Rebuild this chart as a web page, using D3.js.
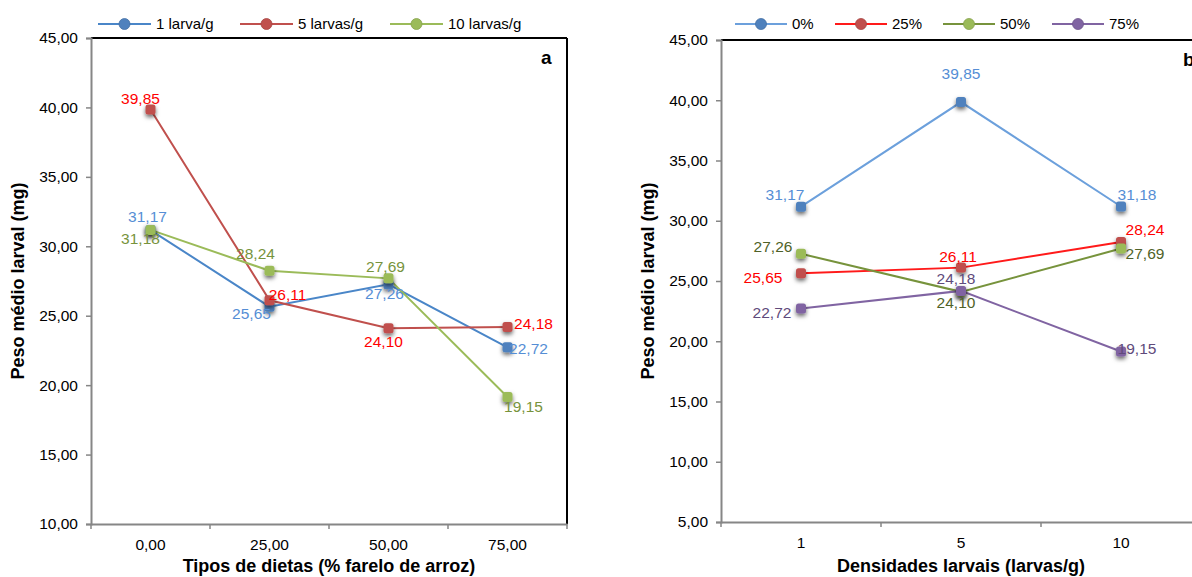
<!DOCTYPE html>
<html>
<head>
<meta charset="utf-8">
<script src="https://cdn.jsdelivr.net/npm/d3@7"></script>
<style>
  body { margin: 0; background: #fff; }
  svg { font-family: "Liberation Sans", Arial, sans-serif; }
</style>
</head>
<body>
<svg id="chart" width="1192" height="577"></svg>
<script>
// panel a: diet types
const dietLabels = ["0,00", "25,00", "50,00", "75,00"];
const densityNames = ["1 larva/g", "5 larvas/g", "10 larvas/g"];
const dens1 = [31.17, 25.65, 27.26, 22.72];
const dens5 = [39.85, 26.11, 24.10, 24.18];
const dens10 = [31.18, 28.24, 27.69, 19.15];

// panel b: larval densities
const densityLabels = ["1", "5", "10"];
const dietNames = ["0%", "25%", "50%", "75%"];
const diet0 = [31.17, 39.85, 31.18];
const diet25 = [25.65, 26.11, 28.24];
const diet50 = [27.26, 24.10, 27.69];
const diet75 = [22.72, 24.18, 19.15];

const yTicksA = [10, 15, 20, 25, 30, 35, 40, 45];
const yTicksB = [5, 10, 15, 20, 25, 30, 35, 40, 45];

const fmt = v => d3.format(".2f")(v).replace(".", ",");
const svg = d3.select("#chart");

const defs = svg.append("defs");
const f = defs.append("filter").attr("id", "shadow")
  .attr("x", "-100%").attr("y", "-100%").attr("width", "300%").attr("height", "300%");
f.append("feDropShadow").attr("dx", 0).attr("dy", 2.5).attr("stdDeviation", 2)
  .attr("flood-color", "#000").attr("flood-opacity", 0.6);

// label offsets [dx, dy] relative to point
const panelA = {
  left: 91, right: 567, top: 38, bottom: 524,
  yDomain: [10, 45], yTicks: yTicksA, cats: dietLabels, tag: "a", tagX: 541,
  xTitle: "Tipos de dietas (% farelo de arroz)", yTitleX: 18,
  legend: {y: 24, x: [98, 240, 390], len: 53},
  series: [
    {name: densityNames[0], values: dens1, line: "#4a86c8", marker: "#4f81bd", label: "#558ed5",
     off: [[-3, -13], [-18, 7], [-4, 9], [21, 1]]},
    {name: densityNames[1], values: dens5, line: "#c0504d", marker: "#c0504d", label: "#ff0000",
     off: [[-10, -11], [18, -6], [-5, 13], [26, -4]]},
    {name: densityNames[2], values: dens10, line: "#9bbb59", marker: "#9bbb59", label: "#77933c",
     off: [[-10, 9], [-14, -17], [-3, -12], [16, 10]]}
  ]
};

const panelB = {
  left: 721, right: 1201, top: 40, bottom: 522,
  yDomain: [5, 45], yTicks: yTicksB, cats: densityLabels, tag: "b", tagX: 1183,
  xTitle: "Densidades larvais (larvas/g)", yTitleX: 648,
  legend: {y: 24, x: [735, 835, 943, 1052], len: 52},
  series: [
    {name: dietNames[0], values: diet0, line: "#6ca0dc", marker: "#4f81bd", label: "#558ed5",
     off: [[-16, -12], [0, -28], [16, -12]]},
    {name: dietNames[1], values: diet25, line: "#ff1a1a", marker: "#c0504d", label: "#ff0000",
     off: [[-38, 4], [-3, -11], [24, -12]]},
    {name: dietNames[2], values: diet50, line: "#77933c", marker: "#9bbb59", label: "#4f6228",
     off: [[-28, -7], [-5, 11], [24, 5]]},
    {name: dietNames[3], values: diet75, line: "#8064a2", marker: "#8064a2", label: "#604a7b",
     off: [[-29, 4], [-5, -12], [16, -3]]}
  ]
};

function drawPanel(p) {
  const g = svg.append("g");
  const x = d3.scaleBand().domain(p.cats).range([p.left, p.right]);
  const y = d3.scaleLinear().domain(p.yDomain).range([p.bottom, p.top]);

  // frame: black top and right
  g.append("line").attr("x1", p.left).attr("x2", p.right).attr("y1", p.top).attr("y2", p.top)
    .attr("stroke", "#000").attr("stroke-width", 2);
  g.append("line").attr("x1", p.right).attr("x2", p.right).attr("y1", p.top).attr("y2", p.bottom)
    .attr("stroke", "#000").attr("stroke-width", 2);

  // y axis
  const ya = g.append("g").attr("transform", `translate(${p.left},0)`)
    .call(d3.axisLeft(y).tickValues(p.yTicks).tickFormat(fmt).tickSize(5).tickPadding(8));
  ya.select(".domain").attr("stroke", "#868686").attr("stroke-width", 2);
  ya.selectAll(".tick line").attr("stroke", "#868686").attr("stroke-width", 1.5);
  ya.selectAll("text").attr("font-size", 15.5).attr("fill", "#000")
    .attr("font-family", "Liberation Sans, Arial, sans-serif");

  // x axis: ticks between categories
  const xa = g.append("g").attr("transform", `translate(0,${p.bottom})`)
    .call(d3.axisBottom(x).tickSize(0).tickPadding(15));
  xa.select(".domain").attr("stroke", "#868686").attr("stroke-width", 2);
  xa.selectAll("text").attr("font-size", 15.5).attr("fill", "#000")
    .attr("font-family", "Liberation Sans, Arial, sans-serif");
  const bounds = p.cats.map(c => x(c)).concat([p.right]);
  xa.selectAll(".sep").data(bounds).join("line").attr("class", "sep")
    .attr("x1", d => d).attr("x2", d => d).attr("y1", 0).attr("y2", 5)
    .attr("stroke", "#868686").attr("stroke-width", 1.5);

  // axis titles
  g.append("text").attr("x", (p.left + p.right) / 2).attr("y", 572)
    .attr("text-anchor", "middle").attr("font-size", 18).attr("font-weight", "bold")
    .text(p.xTitle);
  g.append("text").attr("transform", `translate(${p.yTitleX},${(p.top + p.bottom) / 2}) rotate(-90)`)
    .attr("text-anchor", "middle").attr("dy", "0.35em").attr("font-size", 18).attr("font-weight", "bold")
    .text("Peso médio larval (mg)");

  g.append("text").attr("x", p.tagX).attr("y", p.top + 26)
    .attr("font-size", 19).attr("font-weight", "bold").text(p.tag);

  const cx = c => x(c) + x.bandwidth() / 2;
  const line = d3.line().x((d, i) => cx(p.cats[i])).y(d => y(d));

  p.series.forEach(s => {
    g.append("path").datum(s.values).attr("d", line).attr("fill", "none")
      .attr("stroke", s.line).attr("stroke-width", 2);
  });
  p.series.forEach(s => {
    g.selectAll(null).data(s.values).join("rect")
      .attr("x", (d, i) => cx(p.cats[i]) - 5).attr("y", d => y(d) - 5)
      .attr("width", 10).attr("height", 10).attr("rx", 2.5)
      .attr("fill", s.marker).attr("filter", "url(#shadow)");
  });
  p.series.forEach(s => {
    g.selectAll(null).data(s.values).join("text")
      .attr("x", (d, i) => cx(p.cats[i]) + s.off[i][0])
      .attr("y", (d, i) => y(d) + s.off[i][1])
      .attr("text-anchor", "middle").attr("dy", "0.35em")
      .attr("font-size", 15.5).attr("fill", s.label)
      .text(d => fmt(d));
  });

  // legend
  const lg = g.append("g");
  p.series.forEach((s, i) => {
    const lx = p.legend.x[i], len = p.legend.len;
    lg.append("line").attr("x1", lx).attr("x2", lx + len).attr("y1", p.legend.y).attr("y2", p.legend.y)
      .attr("stroke", s.line).attr("stroke-width", 2);
    lg.append("circle").attr("cx", lx + len / 2).attr("cy", p.legend.y).attr("r", 5.5)
      .attr("fill", s.marker).attr("stroke", d3.color(s.marker).darker(0.4)).attr("stroke-width", 0.8);
    lg.append("text").attr("x", lx + len + 5).attr("y", p.legend.y).attr("dy", "0.35em")
      .attr("font-size", 15).text(s.name);
  });
}

drawPanel(panelA);
drawPanel(panelB);
</script>
</body>
</html>
